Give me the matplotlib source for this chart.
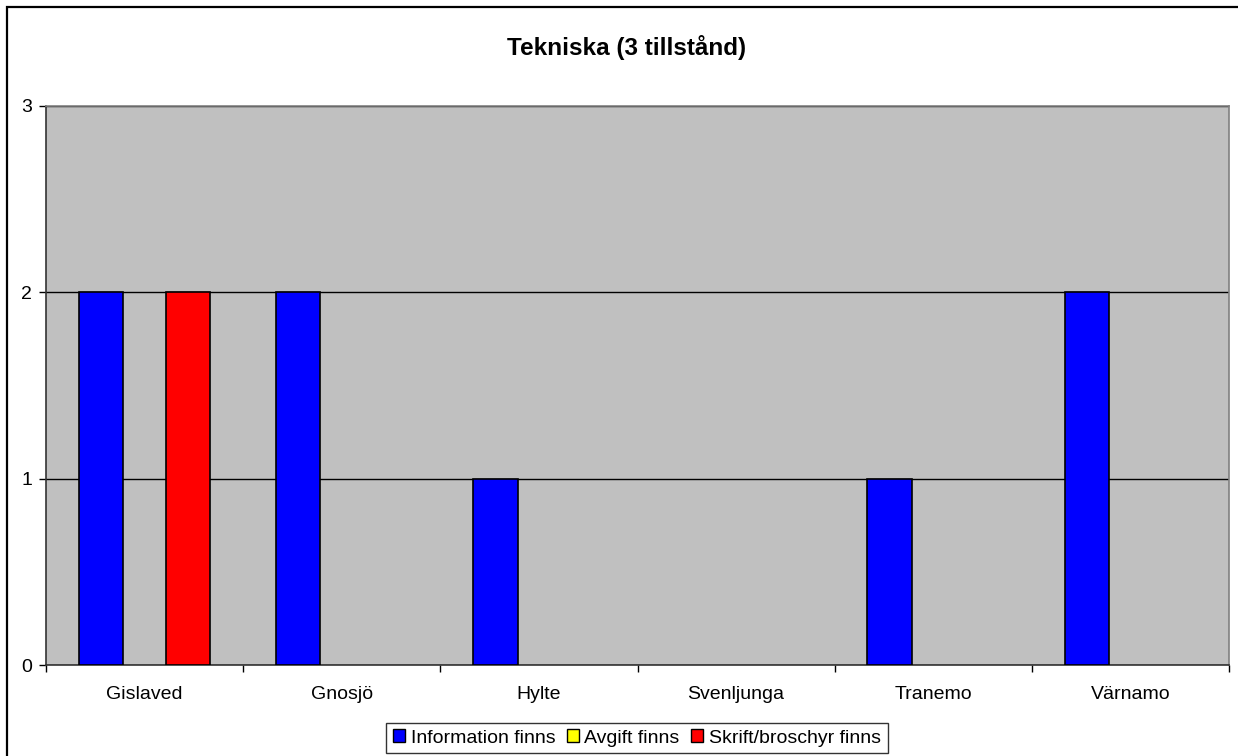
import numpy as np
import matplotlib
matplotlib.use("Agg")
import matplotlib.pyplot as plt
from matplotlib.patches import Rectangle

plt.rcParams['font.family'] = ['Liberation Sans', 'DejaVu Sans']

# Donnees
kommuner = ['Gislaved', 'Gnosjö', 'Hylte', 'Svenljunga', 'Tranemo', 'Värnamo']
information = [2, 2, 1, 0, 1, 2]
avgift = [0, 0, 0, 0, 0, 0]
skrift = [2, 0, 0, 0, 0, 0]
serier = ['Information finns', 'Avgift finns', 'Skrift/broschyr finns']
farger = ['#0000FF', '#FFFF00', '#FF0000']

W, H = 1238, 756
fig = plt.figure(figsize=(W / 100, H / 100), dpi=100)
ax = fig.add_axes([46 / W, (H - 665) / H, (1229 - 46) / W, (665 - 106) / H])
ax.set_facecolor('#C0C0C0')

x = np.arange(len(kommuner))
bredd = 0.226
for i, (vals, namn, farg) in enumerate(zip([information, avgift, skrift], serier, farger)):
    lw = [1.2 if v > 0 else 0 for v in vals]
    ax.bar(x + (i - 1) * 0.221, vals, width=bredd, color=farg, edgecolor='black',
           linewidth=lw, label=namn, zorder=3)

ax.set_xlim(-0.5, len(kommuner) - 0.5)
ax.set_ylim(0, 3)
ax.set_yticks([0, 1, 2, 3])
ax.yaxis.grid(True, color='black', linewidth=1.0, zorder=1)
ax.set_axisbelow(True)

ax.set_xticks(x)
ax.set_xticklabels(kommuner, fontsize=14)
ax.set_xticks(np.arange(len(kommuner) + 1) - 0.5, minor=True)
ax.tick_params(axis='x', which='major', length=0, pad=15)
ax.tick_params(axis='x', which='minor', length=5, width=1, direction='out')
ax.tick_params(axis='y', length=5, width=1, direction='out', labelsize=14, pad=5)

for s in ['top', 'right']:
    ax.spines[s].set_color('#808080')
    ax.spines[s].set_linewidth(1.2)
for s in ['left', 'bottom']:
    ax.spines[s].set_color('#333333')
    ax.spines[s].set_linewidth(1.2)

fig.text(627 / W, 1 - 47 / H, 'Tekniska (3 tillstånd)', ha='center', va='center',
         fontsize=17.5, fontweight='bold')

handles, labels = ax.get_legend_handles_labels()
leg = fig.legend(handles, labels, loc='center', bbox_to_anchor=(637 / W, 1 - 738 / H), ncol=3,
                 fontsize=14, frameon=True, fancybox=False, edgecolor='black',
                 handlelength=0.6, handleheight=0.6, handletextpad=0.3,
                 columnspacing=0.6, borderpad=0.35, borderaxespad=0)
leg.get_frame().set_linewidth(1.0)
for h in leg.legend_handles:
    h.set_linewidth(1.0)

# cadre exterieur du graphique
fig.patches.append(Rectangle((7 / W, -0.1), 1.2, 1.1 - 7 / H, transform=fig.transFigure,
                             fill=False, edgecolor='black', linewidth=1.6))

fig.savefig('out.png', dpi=100)
